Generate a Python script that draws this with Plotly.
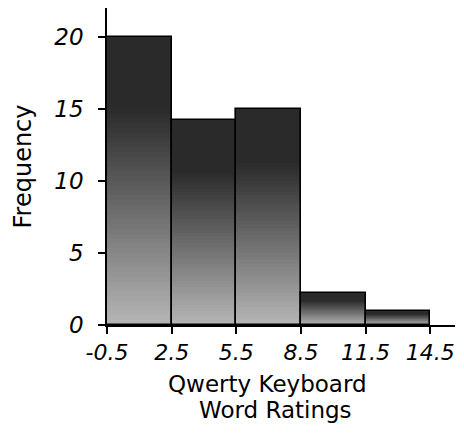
import plotly.graph_objects as go

bin_edges = [-0.5, 2.5, 5.5, 8.5, 11.5, 14.5]
bin_centers = [1, 4, 7, 10, 13]
counts = [20, 14.2, 15, 2.25, 1]
y_ticks = [0, 5, 10, 15, 20]
x_tick_labels = ["-0.5", "2.5", "5.5", "8.5", "11.5", "14.5"]
x_title_lines = ["Qwerty Keyboard", "Word Ratings"]
y_title = "Frequency"

FONT = "DejaVu Sans"
N = 60
dark = (42, 42, 42)
light = (182, 182, 182)

def shade(f):
    # f: fraction of bar height (0 bottom, 1 top); dark on the top quarter
    t = min(f / 0.75, 1.0)
    c = [round(light[i] + (dark[i] - light[i]) * t) for i in range(3)]
    return f"rgb({c[0]},{c[1]},{c[2]})"

fig = go.Figure()
for k in range(N):
    f = k / N
    fig.add_trace(go.Bar(
        x=bin_centers,
        base=[c * f for c in counts],
        y=[c * (1 - f) for c in counts],
        width=3,
        marker=dict(color=shade(f + 0.5 / N), line=dict(width=0)),
        hoverinfo="skip",
        showlegend=False,
    ))

fig.add_trace(go.Bar(
    x=bin_centers,
    y=counts,
    width=3,
    marker=dict(color="rgba(0,0,0,0)", line=dict(color="black", width=1.6)),
    showlegend=False,
))

for txt, xp, yp in zip(x_title_lines, [0.46, 0.483], [-0.186, -0.268]):
    fig.add_annotation(text=txt, xref="paper", yref="paper", x=xp, y=yp,
                       xanchor="center", yanchor="middle", showarrow=False,
                       font=dict(size=23, family=FONT, color="black"))

fig.update_layout(
    width=464, height=433,
    margin=dict(l=107, r=9, t=8, b=108),
    paper_bgcolor="white", plot_bgcolor="white",
    barmode="overlay", bargap=0,
    font=dict(family=FONT, color="black"),
    xaxis=dict(
        range=[-0.5, 15.65], automargin=False,
        tickvals=bin_edges, ticktext=x_tick_labels,
        ticks="outside", ticklen=7, tickwidth=1.6, tickcolor="black",
        ticklabeloverflow="allow",
        showline=True, linecolor="black", linewidth=1.6,
        showgrid=False, zeroline=False,
        tickfont=dict(size=22, family=FONT, style="italic"),
    ),
    yaxis=dict(
        range=[0, 22], automargin=False,
        tickvals=y_ticks,
        ticks="outside", ticklen=7, tickwidth=1.6, tickcolor="black",
        ticklabelstandoff=10,
        showline=True, linecolor="black", linewidth=1.6,
        showgrid=False, zeroline=False,
        tickfont=dict(size=23, family=FONT, style="italic"),
        title=dict(text=y_title, font=dict(size=24, family=FONT), standoff=16),
    ),
)

fig.write_html("out.html", config={"displayModeBar": False},
               post_script="document.body.style.margin='0';")
